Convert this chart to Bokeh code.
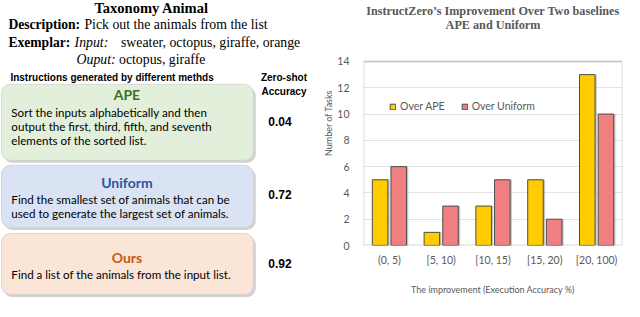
from bokeh.plotting import figure
from bokeh.models import Range1d, FactorRange, FixedTicker, Legend, LegendItem, BoxAnnotation, ColumnDataSource
from bokeh.transform import dodge
from bokeh.layouts import row, column
from bokeh.embed import file_html
from bokeh.resources import INLINE
from bokeh.core.properties import value

# ---------------- data ----------------
categories = ["(0, 5)", "[5, 10)", "[10, 15)", "[15, 20)", "[20, 100)"]
over_ape = [5, 1, 3, 5, 13]
over_uniform = [6, 3, 5, 2, 10]
y_ticks = [0, 2, 4, 6, 8, 10, 12, 14]
chart_title = ["InstructZero\u2019s Improvement Over Two baselines", "APE and Uniform"]

methods = ["APE", "Uniform", "Ours"]
method_colors = ["#3B6E22", "#2F5597", "#C55A11"]
box_fills = ["#E2EFDA", "#DAE3F3", "#FBE5D6"]
instructions = [
    ["Sort the inputs alphabetically and then",
     "output the first, third, fifth, and seventh",
     "elements of the sorted list."],
    ["Find the smallest set of animals that can be",
     "used to generate the largest set of animals."],
    ["Find a list of the animals from the input list."],
]
accuracies = ["0.04", "0.72", "0.92"]

# ---------------- left panel (reference pixel coordinates) ----------------
left = figure(width=320, height=301, x_range=Range1d(2, 326), y_range=Range1d(305, 0),
              output_backend="svg", toolbar_location=None, min_border=0)
left.axis.visible = False
left.grid.visible = False
left.outline_line_color = None

serif = value("Liberation Serif")
sans = value("Liberation Sans")
cal = value("Lato")

def txt(x, y, s, font, size, style="normal", color="#000000", align="left"):
    left.text(x=[x], y=[y], text=[s], text_font=font, text_font_size=f"{size}px",
              text_font_style=style, text_color=color, text_align=align,
              text_baseline="middle")

txt(155, 7.5, "Taxonomy Animal", serif, 14.5, "bold", align="center")
txt(10, 24, "Description:", serif, 13.6, "bold")
txt(87, 24, "Pick out the animals from the list", serif, 13.8)
txt(10, 43, "Exemplar:", serif, 13.6, "bold")
txt(77, 43, "Input:", serif, 13.8, "italic")
txt(124, 43, "sweater, octopus, giraffe, orange", serif, 13.8)
txt(79, 60, "Ouput:", serif, 13.8, "italic")
txt(122, 60, "octopus, giraffe", serif, 13.8)
txt(12, 78, "Instructions generated by different methds", sans, 10, "bold")
txt(289, 78, "Zero-shot", sans, 10, "bold", align="center")
txt(289, 92, "Accuracy", sans, 10, "bold", align="center")

box_tops = [85, 167, 236]
box_bottoms = [162, 230, 298]
head_y = [95, 184, 260]
line_y0 = [113, 202, 278]
acc_y = [123, 197, 267]
for i in range(3):
    left.quad(left=[5], right=[260.5], top=[box_tops[i] + 2.5], bottom=[box_bottoms[i] + 2.5],
              fill_color="#7f7f7f", fill_alpha=0.35, line_color=None, border_radius=9)
    left.quad(left=[3], right=[258], top=[box_tops[i]], bottom=[box_bottoms[i]],
              fill_color=box_fills[i], line_color="#d0d0d0", line_width=0.8, border_radius=9)
    txt(130, head_y[i], methods[i], cal, 14, "bold", color=method_colors[i], align="center")
    for j, line in enumerate(instructions[i]):
        txt(13, line_y0[i] + j * 14.3, line, cal, 11.6)
    txt(285, acc_y[i], accuracies[i], sans, 12, "bold", align="center")

# ---------------- right panel: bar chart ----------------
src = ColumnDataSource(dict(cat=categories, ape=over_ape, uni=over_uniform))

p = figure(width=304, height=301, x_range=FactorRange(*categories, range_padding=0),
           y_range=Range1d(0, 18.64), output_backend="svg", toolbar_location=None,
           min_border_left=43, min_border_right=2, min_border_top=0, min_border_bottom=56)
p.x_range.factor_padding = 0
p.outline_line_color = None

gray = "#595959"
# chart title (two centred lines above the plot area)
p.text(x=[categories[2], categories[2]], y=[17.81, 16.76], text=chart_title,
       text_font=value("Liberation Serif"), text_font_size="12.2px", text_font_style="bold",
       text_color=gray, text_align="center", text_baseline="middle")

p.vbar(x=dodge("cat", -0.18 + 0.035, range=p.x_range), top="ape", width=0.3, source=src,
       bottom=0, fill_color="#808080", fill_alpha=0.45, line_color=None)
p.vbar(x=dodge("cat", 0.18 + 0.035, range=p.x_range), top="uni", width=0.3, source=src,
       bottom=0, fill_color="#808080", fill_alpha=0.45, line_color=None)
r1 = p.vbar(x=dodge("cat", -0.18, range=p.x_range), top="ape", width=0.3, source=src,
            fill_color="#FFCC00", line_color="#4d4d4d", line_width=1)
r2 = p.vbar(x=dodge("cat", 0.18, range=p.x_range), top="uni", width=0.3, source=src,
            fill_color="#F08080", line_color="#4d4d4d", line_width=1)

# plot-area border
p.add_layout(BoxAnnotation(bottom=0, top=14, fill_alpha=0, line_color="#7f7f7f",
                           line_width=1.8))

p.xgrid.grid_line_color = None
p.ygrid.grid_line_color = "#e3e3e3"
p.ygrid.ticker = FixedTicker(ticks=y_ticks[1:])
p.yaxis.ticker = FixedTicker(ticks=y_ticks)

for ax in (p.xaxis[0], p.yaxis[0]):
    ax.axis_line_color = None
    ax.major_tick_line_color = None
    ax.minor_tick_line_color = None
    ax.major_label_text_font = "Lato"
    ax.major_label_text_font_size = "10.5px"
    ax.major_label_text_color = gray
    ax.axis_label_text_font = "Lato"
    ax.axis_label_text_font_style = "normal"
    ax.axis_label_text_color = gray
    ax.axis_label_text_font_size = "9px"

p.xaxis.axis_label = "The improvement (Execution Accuracy %)"
p.xaxis.major_label_standoff = 2
p.xaxis.axis_label_standoff = 15
p.yaxis.axis_label = "Number of Tasks"
p.yaxis.major_label_standoff = 8
p.yaxis.axis_label_standoff = 0

legend = Legend(items=[LegendItem(label="Over APE", renderers=[r1]),
                       LegendItem(label="Over Uniform", renderers=[r2])],
                orientation="horizontal", location=(26, 133), padding=0, margin=0,
                spacing=16, label_standoff=4, glyph_width=7, glyph_height=7,
                label_height=12, label_text_font="Lato", label_text_font_size="10.5px",
                label_text_color=gray, border_line_color=None, background_fill_alpha=0)
p.add_layout(legend, "center")

layout = row(column(left), column(p), spacing=0)
open("out.html", "w").write(file_html(layout, INLINE))
